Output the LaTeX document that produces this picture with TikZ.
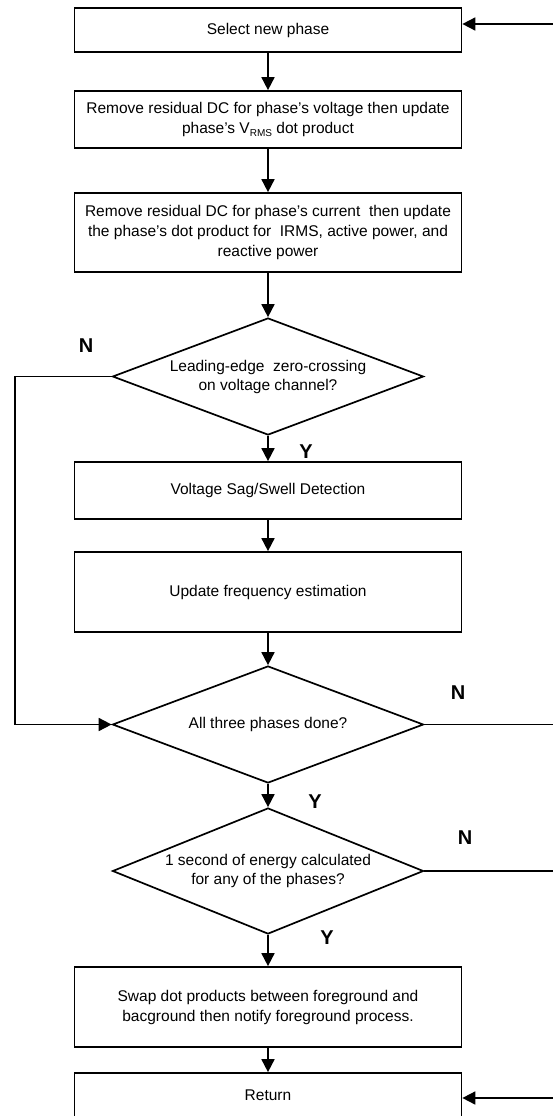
\documentclass[tikz,border=0pt]{standalone}
\usepackage{fontspec}
\setmainfont{Liberation Sans}
\usetikzlibrary{arrows.meta,shapes.geometric}
\begin{document}
\begin{tikzpicture}[x=1pt,y=-1pt, line width=1.7pt,
  box/.style={draw, rectangle, minimum width=387pt, inner sep=0pt, align=center, font=\fontsize{15.5}{20}\selectfont},
  dec/.style={draw, diamond, minimum width=311pt, inner sep=0pt, align=center, font=\fontsize{15.5}{19}\selectfont},
  lbl/.style={font=\fontsize{20}{24}\selectfont\bfseries},
  arr/.style={-{Triangle[width=13pt,length=13pt]}}]
\useasboundingbox (0,0) rectangle (553,1116);
\node[box, minimum height=44pt] (b1) at (268,30) {Select new phase};
\node[box, minimum height=57pt] (b2) at (268,119.5) {Remove residual DC for phase’s voltage then update\\phase’s V\raisebox{-0.35ex}{\fontsize{10}{10}\selectfont RMS} dot product};
\node[box, minimum height=79pt] (b3) at (268,232.5) {Remove residual DC for phase’s current\ \ then update\\the phase’s dot product for\ \ IRMS, active power, and\\reactive power};
\node[dec, shape aspect=2.66, minimum height=117pt] (d1) at (268,376.5) {Leading-edge\ \ zero-crossing\\on voltage channel?};
\node[box, minimum height=57pt] (b4) at (268,490.5) {Voltage Sag/Swell Detection};
\node[box, minimum height=80pt] (b5) at (268,592) {Update frequency estimation};
\node[dec, shape aspect=2.66, minimum height=117pt] (d2) at (268,724.5) {All three phases done?};
\node[dec, shape aspect=2.47, minimum height=126pt] (d3) at (268,871) {1 second of energy calculated\\for any of the phases?};
\node[box, minimum height=80pt] (b6) at (268,1007) {Swap dot products between foreground and\\bacground then notify foreground process.};
\node[box, minimum height=44pt] (b7) at (268,1095) {Return};

\node[lbl] (n1) at (86,346) {N};
\node[lbl] (y1) at (306,452) {Y};
\node[lbl] (n2) at (458,693) {N};
\node[lbl] (y2) at (315,802) {Y};
\node[lbl] (n3) at (465,838) {N};
\node[lbl] (y3) at (327,938) {Y};

\draw[arr] (b1) -- (b2);
\draw[arr] (b2) -- (b3);
\draw[arr] (b3) -- (d1);
\draw[arr] (d1) -- (b4);
\draw[arr] (b4) -- (b5);
\draw[arr] (b5) -- (d2);
\draw[arr] (d2) -- (d3);
\draw[arr] (d3) -- (b6);
\draw[arr] (b6) -- (b7);

\coordinate (lx) at (15,0);
\draw[arr] (d1.west) -- (d1.west -| lx) -- (d2.west -| lx) -- (d2.west);

\coordinate (r1) at (553,24);
\coordinate (r2) at (553,724.5);
\coordinate (r3) at (553,871);
\coordinate (r4) at (553,1098);
\draw[arr] (r1) -- (b1.east |- r1);
\draw (d2.east) -- (r2);
\draw (d3.east) -- (r3);
\draw[arr] (r4) -- (b7.east |- r4);
\end{tikzpicture}
\end{document}
